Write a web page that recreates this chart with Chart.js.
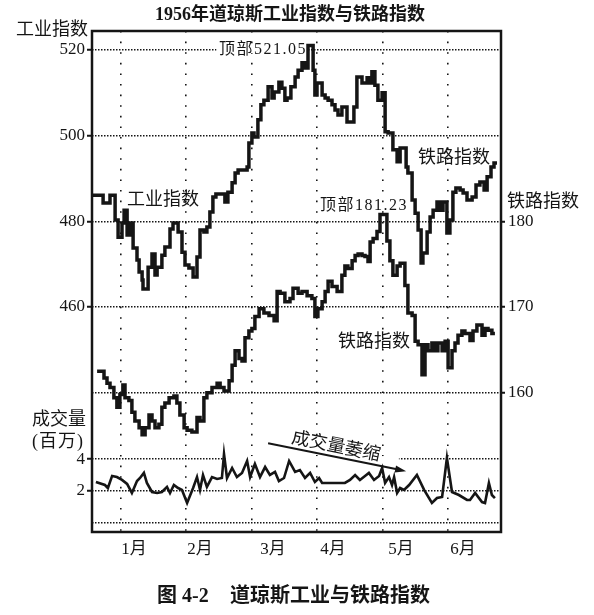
<!DOCTYPE html>
<html>
<head>
<meta charset="utf-8">
<script src="https://cdn.jsdelivr.net/npm/chart.js@4"></script>
<style>
  html, body { margin: 0; padding: 0; background: #fff; }
  canvas { display: block; }
</style>
</head>
<body>
<canvas id="chart" width="594" height="615"></canvas>
<script>
// x axis counts trading days from the left edge of the frame
const monthLabels = ['1月', '2月', '3月', '4月', '5月', '6月'];
const monthGridDays = [9.7, 31.3, 53.3, 75, 97, 118.7];
const monthLabelDays = [14, 36, 60.3, 80.3, 103, 123.7];

const indTicks = [460, 480, 500, 520];
const railTicks = [160, 170, 180];
const volTicks = [0, 2, 4];

// Dow Jones industrials (step line)
const indDays = [
  0, 3.7, 6, 7.7, 8.7, 10, 10.7, 11.7, 12.7, 13.7,
  15, 15.7, 16.7, 17, 18.7, 20, 21, 21.7, 23.3, 24.3,
  26, 27, 28.7, 30, 31, 32.3, 33.7, 35, 36, 37.3,
  38.3, 39.3, 40.3, 41.3, 44.3, 45.3, 46.7, 47.7, 48.7, 51.7,
  52.3, 53.3, 54, 55.3, 56.3, 57.3, 58.7, 60, 60.7, 62.3,
  63.3, 64.3, 65, 66.3, 67.7, 68.7, 70, 71, 72, 73.7,
  74.3, 75, 76.7, 77.7, 78.7, 80, 81, 82, 83.3, 85,
  87.3, 88.3, 90, 91.7, 92.7, 93.3, 94.3, 95.3, 96.7, 97.7,
  98.7, 100.3, 101.7, 102.7, 104.7, 105.3, 106.7, 107.7, 108.7, 109.7,
  110.3, 111.7, 112.7, 113.7, 115, 116, 117, 118.3, 119.3, 120.3,
  121.3, 122.7, 123.7, 125, 126.7, 128, 129.3, 130.7, 131.7, 133,
  134, 135
];
const indValues = [
  486.1, 484.3, 486.1, 480.3, 476.3, 479.6, 482.6, 476.8, 479.6, 473.8,
  471.0, 468.2, 466.3, 464.2, 469.3, 472.4, 467.5, 469.3, 472.1, 474.0,
  478.2, 479.6, 477.5, 472.8, 469.8, 469.1, 467.0, 471.7, 478.0, 477.5,
  478.7, 482.2, 485.7, 486.4, 484.5, 486.8, 489.0, 491.3, 492.0, 492.7,
  498.3, 500.6, 499.7, 503.7, 507.2, 508.3, 511.4, 508.8, 510.2, 512.5,
  511.1, 508.3, 508.8, 511.4, 513.7, 515.3, 517.0, 515.8, 521.05, 515.3,
  509.5, 512.3, 509.5, 508.8, 508.3, 507.2, 506.0, 504.8, 506.7, 503.2,
  506.7, 513.7, 512.3, 513.5, 512.3, 514.9, 511.8, 508.3, 510.0, 500.9,
  500.6, 496.7, 493.9, 497.1, 492.7, 491.3, 485.0, 481.9, 478.0, 470.3,
  472.6, 477.5, 481.0, 482.6, 484.5, 482.6, 484.5, 477.3, 480.3, 486.8,
  487.8, 487.3, 486.6, 485.0, 485.7, 488.5, 489.2, 487.3, 490.4, 492.7,
  493.6, 493.6
];

// Dow Jones rails (step line)
const railDays = [
  1.7, 4, 5, 6, 7.3, 8.3, 9.3, 10.3, 11, 12.3,
  13.3, 14.3, 15.7, 16.7, 17.7, 19, 20, 21, 22.3, 23.3,
  24.3, 25.7, 27.3, 28.3, 29.3, 30.7, 31.7, 33.3, 35, 36,
  37.3, 38.3, 40, 41.7, 42.7, 44, 45.7, 46.7, 47.7, 49,
  50, 51, 52.3, 53.3, 54.3, 55.7, 57.3, 59, 60.7, 61.7,
  62.7, 64.3, 66, 67, 68.7, 70, 71.7, 73.3, 74.3, 75.3,
  76.7, 77.7, 78.7, 80, 81.7, 83.3, 84.3, 85.3, 86.7, 87.7,
  88.7, 90, 91, 92, 92.7, 93.7, 95, 96, 98.3, 99.3,
  100.3, 101.7, 102.7, 104.3, 105.3, 106.7, 107.7, 108.7, 110, 111,
  112, 113.3, 114.3, 115.3, 116.7, 117.7, 118.7, 120, 121, 122,
  123.3, 124.3, 126, 127, 128.3, 130, 131, 132, 133.3, 134.3
];
const railValues = [
  162.5, 161.7, 161.1, 160.6, 159.4, 158.3, 159.8, 160.9, 159.4, 159.1,
  157.7, 156.7, 155.9, 155.1, 155.9, 157.4, 156.7, 155.9, 156.3, 158.3,
  158.8, 159.4, 159.6, 158.8, 157.4, 155.9, 155.6, 155.4, 157.1, 156.7,
  159.4, 160.0, 160.6, 161.1, 160.6, 160.2, 161.4, 163.2, 164.9, 164.0,
  163.7, 166.4, 167.2, 167.5, 168.9, 169.8, 169.3, 169.0, 168.4, 171.8,
  171.6, 170.6, 171.0, 172.2, 171.6, 171.8, 171.3, 171.0, 168.9, 169.8,
  170.6, 171.8, 173.0, 172.4, 171.8, 173.7, 174.8, 174.5, 175.4, 176.0,
  176.2, 176.0, 175.9, 175.3, 177.6, 178.0, 178.8, 180.8, 177.7, 175.4,
  173.7, 174.8, 175.1, 172.5, 169.3, 169.0, 166.0, 165.6, 162.1, 165.6,
  164.9, 165.8, 164.9, 165.8, 164.9, 166.0, 162.9, 164.9, 165.8, 166.7,
  167.2, 166.9, 166.1, 167.2, 167.9, 166.7, 167.5, 167.3, 166.9, 166.9
];

// volume, millions of shares
const volDays = [
  1.3, 4.3, 5.3, 6.7, 8.3, 10, 11.7, 13.3, 15, 16,
  17.3, 18.3, 20, 21.7, 23.3, 25, 26, 27.3, 28.7, 30,
  31.7, 33.7, 35, 36, 37, 38.3, 40, 41.7, 43.3, 44,
  45, 46.7, 48.3, 50, 51.7, 52.7, 54.3, 56, 57.7, 59.3,
  61, 62.3, 64, 65.7, 67.7, 69.3, 71, 72.7, 74.3, 75.7,
  76.7, 84.3, 86, 87.7, 89.3, 91, 92.3, 94, 95.7, 96.7,
  97.7, 99, 100, 100.7, 101.7, 102.7, 104, 105.7, 108.3, 110.7,
  113.3, 115, 116.7, 118.3, 120, 122.3, 125, 126, 127.7, 130,
  131, 132.3, 133.3, 134.3
];
const volValues = [
  2.56, 2.37, 2.18, 2.94, 2.87, 2.69, 2.44, 1.87, 2.62, 2.81,
  3.13, 2.5, 1.93, 1.87, 1.93, 2.25, 1.87, 2.37, 2.18, 2.06,
  1.24, 2.18, 2.87, 2.06, 3.0, 2.25, 2.87, 2.75, 2.81, 4.32,
  2.81, 3.44, 2.87, 3.13, 3.88, 2.87, 3.69, 2.87, 3.5, 3.0,
  3.19, 2.62, 2.81, 3.88, 3.19, 3.31, 2.81, 3.13, 2.56, 2.81,
  2.5, 2.5, 2.69, 3.0, 2.69, 2.94, 3.13, 2.69, 2.94, 3.44,
  2.5, 2.87, 2.37, 2.87, 1.87, 2.18, 2.06, 2.37, 3.0, 2.06,
  1.24, 1.55, 1.62, 4.07, 1.93, 1.74, 1.43, 1.43, 1.87, 1.3,
  1.24, 2.5, 1.74, 1.55
];

const ink = '#151515';
const serif = '"Liberation Serif", "Noto Sans CJK SC", serif';

const toPoints = (xs, ys) => xs.map((x, i) => ({ x, y: ys[i] }));
const fixTicks = values => scale => { scale.ticks = values.map(value => ({ value })); };

function text(ctx, str, x, y, size, opts = {}) {
  ctx.save();
  ctx.font = (opts.bold ? 'bold ' : '') + size + 'px ' + serif;
  ctx.fillStyle = ink;
  ctx.textAlign = opts.align || 'left';
  ctx.textBaseline = 'middle';
  if (opts.spacing) ctx.letterSpacing = opts.spacing;
  ctx.fillText(str, x, y);
  ctx.restore();
}

const annotations = {
  id: 'annotations',
  beforeDatasetsDraw(chart) {
    const { ctx, scales } = chart;
    const { x, yInd, yVol } = scales;
    ctx.save();
    ctx.fillStyle = '#fff';
    // the peak label and the volume note sit over their grid lines
    const y520 = yInd.getPixelForValue(520);
    ctx.fillRect(x.getPixelForValue(41.5), y520 - 3, x.getPixelForValue(72) - x.getPixelForValue(41.5), 6);
    const y4 = yVol.getPixelForValue(4);
    ctx.fillRect(x.getPixelForValue(45), y4 - 3, x.getPixelForValue(102.3) - x.getPixelForValue(45), 6);
    ctx.restore();
  },
  afterDatasetsDraw(chart) {
    const { ctx, chartArea, scales } = chart;
    const { x, yInd, yRail, yVol } = scales;

    ctx.save();
    ctx.strokeStyle = ink;
    ctx.lineWidth = 2.5;
    ctx.strokeRect(chartArea.left, chartArea.top, chartArea.right - chartArea.left, chartArea.bottom - chartArea.top);
    ctx.restore();

    text(ctx, '顶部521.05', x.getPixelForValue(42.3), yInd.getPixelForValue(520), 16, { spacing: '1.5px' });
    text(ctx, '工业指数', x.getPixelForValue(11.7), yInd.getPixelForValue(485), 18);
    text(ctx, '铁路指数', x.getPixelForValue(108.7), yInd.getPixelForValue(494.8), 18);
    text(ctx, '顶部181.23', x.getPixelForValue(76), yRail.getPixelForValue(181.8), 16, { spacing: '1.5px' });
    text(ctx, '铁路指数', x.getPixelForValue(82), yRail.getPixelForValue(165.9), 18);

    // volume shrinking arrow
    const x0 = x.getPixelForValue(58.7), y0 = yVol.getPixelForValue(5.0);
    const x1 = x.getPixelForValue(104.7), y1 = yVol.getPixelForValue(3.24);
    const ang = Math.atan2(y1 - y0, x1 - x0);
    ctx.save();
    ctx.strokeStyle = ink;
    ctx.fillStyle = ink;
    ctx.lineWidth = 2;
    ctx.beginPath();
    ctx.moveTo(x0, y0);
    ctx.lineTo(x1 - 8 * Math.cos(ang), y1 - 8 * Math.sin(ang));
    ctx.stroke();
    ctx.translate(x1, y1);
    ctx.rotate(ang);
    ctx.beginPath();
    ctx.moveTo(0, 0);
    ctx.lineTo(-11, -3.5);
    ctx.lineTo(-11, 3.5);
    ctx.closePath();
    ctx.fill();
    ctx.restore();

    ctx.save();
    ctx.translate(x.getPixelForValue(81.3), yVol.getPixelForValue(4.76));
    ctx.rotate(ang);
    text(ctx, '成交量萎缩', 0, 0, 18, { align: 'center' });
    ctx.restore();
  },
  afterDraw(chart) {
    const { ctx, scales } = chart;
    const yVol = scales.yVol;
    // volume tick labels share the left column with the industrial ones
    volTicks.filter(v => v !== 0).forEach(v => {
      text(ctx, String(v), yVol.left - 7, yVol.getPixelForValue(v), 17, { align: 'right' });
    });
    text(ctx, '1956年道琼斯工业指数与铁路指数', 290, 15, 18, { align: 'center', bold: true });
    text(ctx, '工业指数', 16, 30, 18);
    text(ctx, '铁路指数', 507, 202, 18);
    text(ctx, '成交量', 32, 420, 18);
    text(ctx, '(百万)', 32, 442, 18, { spacing: '1px' });
    text(ctx, '图 4-2', 157, 597, 20, { bold: true });
    text(ctx, '道琼斯工业与铁路指数', 230, 597, 20, { bold: true });
  }
};

const yGrid = {
  color: ink,
  lineWidth: 1.5,
  tickLength: 5,
  tickWidth: 2,
  tickColor: ink,
  tickBorderDash: []
};

new Chart(document.getElementById('chart'), {
  type: 'line',
  data: {
    datasets: [
      {
        label: '成交量',
        data: toPoints(volDays, volValues),
        yAxisID: 'yVol',
        borderColor: ink,
        borderWidth: 2.6,
        pointRadius: 0,
        borderJoinStyle: 'miter'
      },
      {
        label: '铁路指数',
        data: toPoints(railDays, railValues),
        yAxisID: 'yRail',
        stepped: true,
        borderColor: ink,
        borderWidth: 3.5,
        pointRadius: 0,
        borderJoinStyle: 'miter'
      },
      {
        label: '工业指数',
        data: toPoints(indDays, indValues),
        yAxisID: 'yInd',
        stepped: true,
        borderColor: ink,
        borderWidth: 3.5,
        pointRadius: 0,
        borderJoinStyle: 'miter'
      }
    ]
  },
  options: {
    responsive: false,
    animation: false,
    devicePixelRatio: 1,
    layout: { padding: { top: 31, bottom: 53, left: 0, right: 0 } },
    plugins: { legend: { display: false }, tooltip: { enabled: false } },
    scales: {
      x: {
        type: 'linear',
        position: 'bottom',
        min: 0,
        max: 136.33,
        afterBuildTicks: fixTicks(monthGridDays),
        afterFit: s => { s.height = 0; },
        ticks: { display: false },
        grid: { color: ink, lineWidth: 1.6, drawTicks: false },
        border: { display: false, dash: [1.6, 9] }
      },
      xm: {
        type: 'linear',
        position: 'bottom',
        min: 0,
        max: 136.33,
        afterBuildTicks: fixTicks(monthLabelDays),
        afterFit: s => { s.height = 30; },
        grid: { display: false, drawTicks: false },
        border: { display: false },
        ticks: {
          autoSkip: false,
          maxRotation: 0,
          padding: 7,
          color: ink,
          font: { family: serif, size: 17 },
          callback: (v, i) => monthLabels[i]
        }
      },
      yInd: {
        type: 'linear',
        position: 'left',
        weight: 1,
        min: 407.47,
        max: 524.44,
        afterBuildTicks: fixTicks(indTicks),
        afterFit: s => { s.width = 92; },
        ticks: { color: ink, padding: 2, font: { family: serif, size: 17 } },
        grid: yGrid,
        border: { display: false, dash: [1.5, 1.5] }
      },
      yVol: {
        type: 'linear',
        position: 'left',
        weight: 0,
        min: -0.585,
        max: 30.92,
        afterBuildTicks: fixTicks(volTicks),
        afterFit: s => { s.width = 0; },
        ticks: { display: false },
        grid: Object.assign({}, yGrid, {
          tickColor: c => (c.tick && c.tick.value === 0 ? 'rgba(0,0,0,0)' : ink)
        }),
        border: { display: false, dash: [1.5, 1.5] }
      },
      yRail: {
        type: 'linear',
        position: 'right',
        min: 143.735,
        max: 202.22,
        afterBuildTicks: fixTicks(railTicks),
        afterFit: s => { s.width = 93; },
        ticks: { color: ink, padding: 3, font: { family: serif, size: 17 } },
        grid: Object.assign({}, yGrid, {
          tickLength: 4,
          color: c => (c.tick && c.tick.value === 160 ? ink : 'rgba(0,0,0,0)')
        }),
        border: { display: false, dash: [1.5, 1.5] }
      }
    }
  },
  plugins: [annotations]
});
</script>
</body>
</html>
